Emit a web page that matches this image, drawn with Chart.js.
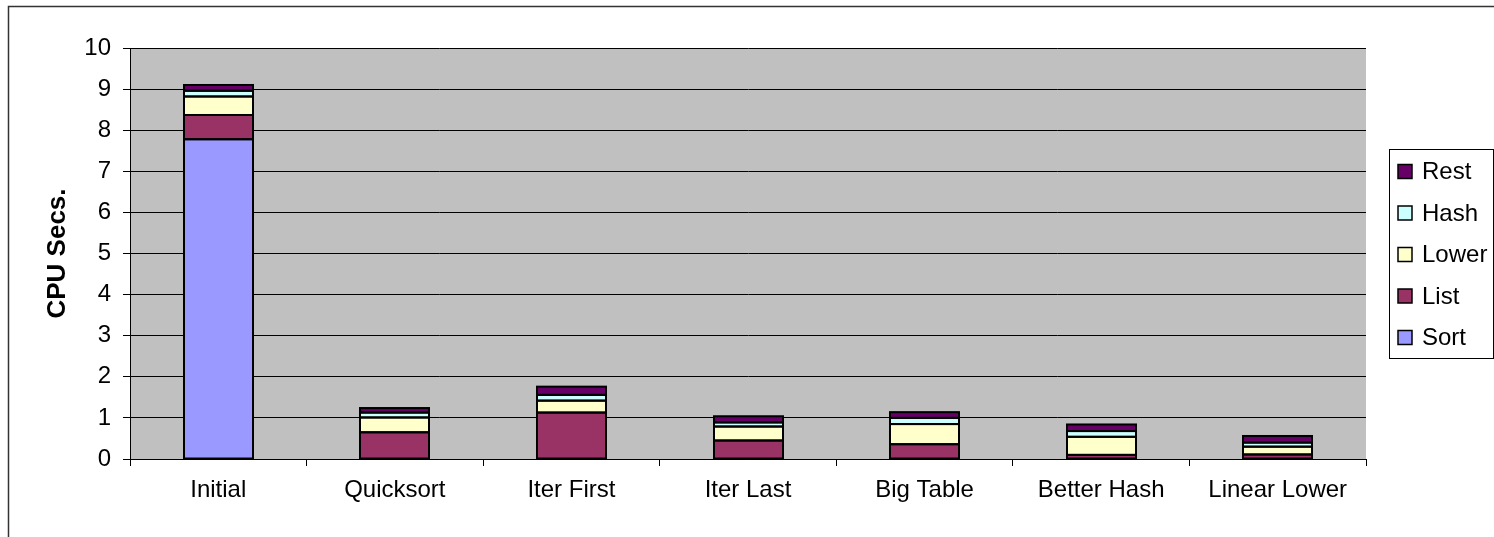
<!DOCTYPE html>
<html>
<head>
<meta charset="utf-8">
<script src="https://cdn.jsdelivr.net/npm/chart.js@4/dist/chart.umd.min.js"></script>
<style>
  html, body { margin: 0; padding: 0; background: #fff; }
  canvas { display: block; }
</style>
</head>
<body>
<canvas id="c" width="1494" height="537"></canvas>
<script>
// Run labels along the x axis
const categories = ['Initial', 'Quicksort', 'Iter First', 'Iter Last', 'Big Table', 'Better Hash', 'Linear Lower'];

// CPU seconds spent in each part of the program, per run
const sortSecs  = [7.78, null, null, null, null, null, null];
const listSecs  = [0.59, 0.65, 1.13, 0.45, 0.36, 0.10, 0.11];
const lowerSecs = [0.45, 0.36, 0.29, 0.34, 0.49, 0.44, 0.19];
const hashSecs  = [0.14, 0.12, 0.14, 0.10, 0.15, 0.14, 0.10];
const restSecs  = [0.14, 0.11, 0.20, 0.15, 0.14, 0.16, 0.16];

const yTicks = [0, 1, 2, 3, 4, 5, 6, 7, 8, 9, 10];
const yTitle = 'CPU Secs.';

const FONT = '"Liberation Sans", Arial, sans-serif';

function series(label, data, color) {
  return {
    label, data,
    backgroundColor: color,
    borderWidth: 0,
    categoryPercentage: 1,
    barPercentage: 0.39
  };
}

// Grey plot background plus the outer frame lines
const framePlugin = {
  id: 'frame',
  beforeDraw(chart) {
    const { ctx, chartArea: a } = chart;
    ctx.save();
    ctx.fillStyle = '#C0C0C0';
    ctx.fillRect(a.left, a.top, a.right - a.left, a.bottom - a.top);
    ctx.strokeStyle = '#333';
    ctx.lineWidth = 1.5;
    ctx.beginPath();
    ctx.moveTo(8.5, chart.height + 2);
    ctx.lineTo(8.5, 6.5);
    ctx.lineTo(chart.width + 2, 6.5);
    ctx.stroke();
    ctx.restore();
  }
};

// Black outline centred on every segment's edges, shared between neighbours
const outlinePlugin = {
  id: 'segmentOutline',
  afterDatasetsDraw(chart) {
    const { ctx } = chart;
    ctx.save();
    ctx.strokeStyle = '#000';
    ctx.lineWidth = 2;
    chart.data.datasets.forEach((ds, di) => {
      const meta = chart.getDatasetMeta(di);
      meta.data.forEach((el, i) => {
        if (ds.data[i] == null) return;
        const { x, y, base, width } = el.getProps(['x', 'y', 'base', 'width'], true);
        ctx.strokeRect(Math.round(x - width / 2), y, Math.round(width), base - y);
      });
    });
    ctx.restore();
  }
};

// Boxed legend on the right, top entry = top segment of the stack
const legendPlugin = {
  id: 'boxLegend',
  afterDraw(chart) {
    const { ctx } = chart;
    const sets = chart.data.datasets.slice().reverse();
    const x = 1389.5, y = 149.5, w = 104, h = 209;
    ctx.save();
    ctx.fillStyle = '#fff';
    ctx.fillRect(x, y, w, h);
    ctx.strokeStyle = '#000';
    ctx.lineWidth = 1;
    ctx.strokeRect(x, y, w, h);
    ctx.font = '24px ' + FONT;
    ctx.textBaseline = 'middle';
    ctx.textAlign = 'left';
    const step = 41.5;
    sets.forEach((ds, i) => {
      const cy = 171.5 + i * step;
      ctx.fillStyle = ds.backgroundColor;
      ctx.fillRect(1398, cy - 7, 14, 14);
      ctx.lineWidth = 1.5;
      ctx.strokeStyle = '#000';
      ctx.strokeRect(1398, cy - 7, 14, 14);
      ctx.fillStyle = '#000';
      ctx.fillText(ds.label, 1422, cy + 1);
    });
    ctx.restore();
  }
};

new Chart(document.getElementById('c'), {
  type: 'bar',
  data: {
    labels: categories,
    datasets: [
      series('Sort',  sortSecs,  '#9999FF'),
      series('List',  listSecs,  '#993366'),
      series('Lower', lowerSecs, '#FFFFCC'),
      series('Hash',  hashSecs,  '#CCFFFF'),
      series('Rest',  restSecs,  '#660066')
    ]
  },
  options: {
    responsive: false,
    animation: false,
    layout: { padding: { left: 38, top: 48, right: 128, bottom: 0 } },
    plugins: {
      legend: { display: false },
      tooltip: { enabled: false }
    },
    scales: {
      x: {
        stacked: true,
        offset: true,
        afterFit(scale) { scale.height = 78; },
        grid: {
          display: true,
          drawOnChartArea: false,
          drawTicks: true,
          tickLength: 7,
          color: '#000',
          lineWidth: 1,
          offset: true
        },
        border: { color: '#000', width: 1 },
        ticks: {
          color: '#000',
          font: { family: FONT, size: 24 },
          padding: 10,
          maxRotation: 0,
          autoSkip: false
        }
      },
      y: {
        stacked: true,
        min: yTicks[0],
        max: yTicks[yTicks.length - 1],
        afterFit(scale) { scale.width = 92; },
        afterBuildTicks(scale) { scale.ticks = yTicks.map(v => ({ value: v })); },
        grid: {
          color: '#000',
          lineWidth: 1,
          tickLength: 7
        },
        border: { color: '#000', width: 1 },
        ticks: {
          color: '#000',
          font: { family: FONT, size: 24 },
          padding: 12
        },
        title: {
          display: true,
          text: yTitle,
          color: '#000',
          font: { family: FONT, size: 26, weight: 'bold' },
          padding: { top: 4, bottom: 4 }
        }
      }
    }
  },
  plugins: [framePlugin, outlinePlugin, legendPlugin]
});
</script>
</body>
</html>
